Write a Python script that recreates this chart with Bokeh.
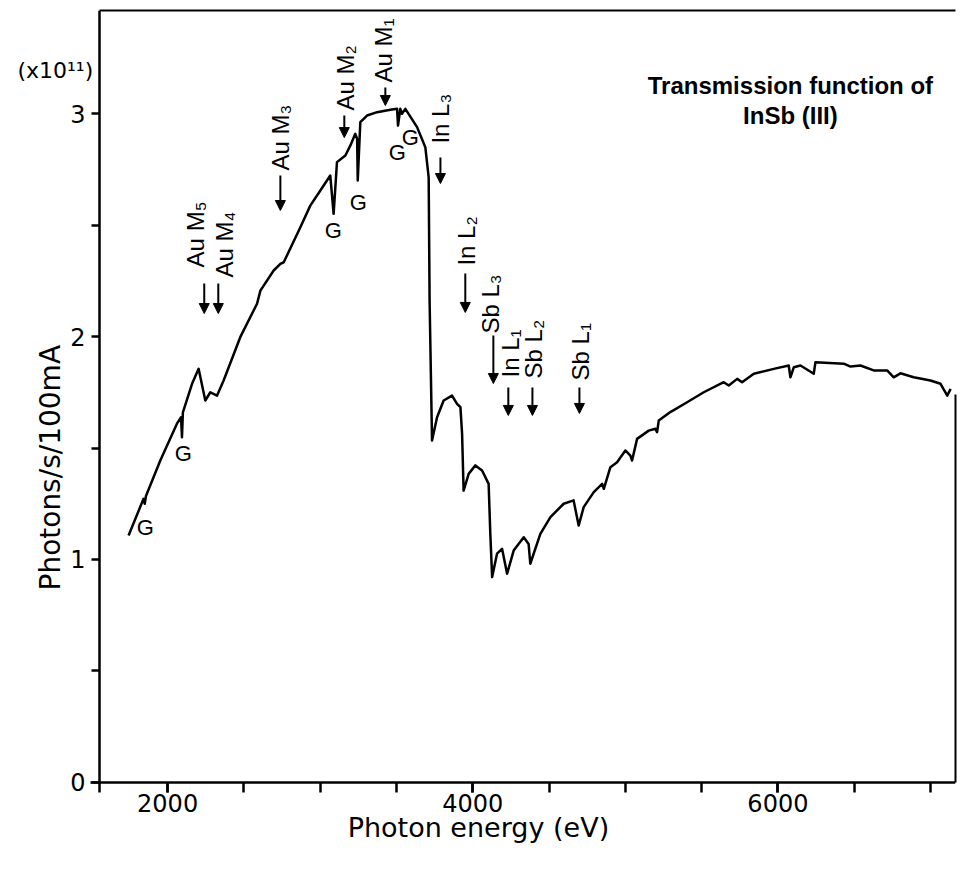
from math import pi
from bokeh.plotting import figure
from bokeh.models import (Range1d, FixedTicker, Arrow, NormalHead, LinearAxis,
                          ColumnDataSource)
from bokeh.embed import file_html
from bokeh.resources import INLINE
from bokeh.core.properties import value

# ---- data (photon energy in eV, photons/s/100mA in units of 1e11) ----
energy_ev = [1744, 1842, 1850, 1858, 1952, 2061, 2088, 2094, 2100, 2160,
             2203, 2247, 2280, 2324, 2367, 2476, 2586, 2608, 2695, 2739,
             2761, 2870, 2935, 3001, 3066, 3088, 3110, 3165, 3198, 3230,
             3242, 3246, 3263, 3307, 3373, 3460, 3504, 3510, 3525, 3536,
             3558, 3635, 3689, 3711, 3717, 3733, 3766, 3809, 3864, 3897,
             3919, 3930, 3940, 3973, 4017, 4061, 4104, 4115, 4127, 4159,
             4192, 4225, 4268, 4334, 4366, 4377, 4443, 4509, 4596, 4661,
             4694, 4727, 4793, 4848, 4859, 4902, 4946, 5000, 5033, 5044,
             5077, 5153, 5197, 5208, 5219, 5295, 5405, 5514, 5645, 5678,
             5733, 5765, 5842, 5973, 6071, 6082, 6104, 6148, 6235, 6246,
             6432, 6476, 6541, 6628, 6716, 6759, 6803, 6890, 7000, 7066,
             7110, 7132]
photons = [1.108, 1.272, 1.250, 1.285, 1.444, 1.609, 1.638, 1.548, 1.660, 1.788,
           1.855, 1.713, 1.750, 1.735, 1.803, 1.997, 2.147, 2.206, 2.296, 2.326,
           2.333, 2.490, 2.587, 2.655, 2.722, 2.550, 2.782, 2.812, 2.857, 2.909,
           2.887, 2.700, 2.961, 2.991, 3.006, 3.017, 3.021, 2.946, 3.021, 2.999,
           3.021, 2.939, 2.849, 2.714, 2.161, 1.534, 1.638, 1.713, 1.735, 1.698,
           1.683, 1.564, 1.309, 1.384, 1.422, 1.399, 1.339, 1.115, 0.921, 1.026,
           1.048, 0.936, 1.040, 1.100, 1.070, 0.981, 1.115, 1.190, 1.250, 1.265,
           1.152, 1.235, 1.302, 1.339, 1.317, 1.414, 1.436, 1.489, 1.466, 1.444,
           1.541, 1.578, 1.586, 1.571, 1.623, 1.661, 1.705, 1.750, 1.795, 1.780,
           1.810, 1.795, 1.833, 1.855, 1.870, 1.817, 1.862, 1.870, 1.833, 1.885,
           1.878, 1.865, 1.870, 1.848, 1.848, 1.817, 1.835, 1.817, 1.803, 1.788,
           1.735, 1.765]

x_major_ticks = [2000, 4000, 6000]
x_minor_ticks = [2000, 2500, 3000, 3500, 4000, 4500, 5000, 5500, 6000, 6500, 7000]
y_major_ticks = [0, 1, 2, 3]
y_minor_ticks = [0.5, 1.5, 2.5]

# data extent of the drawn axes box
x_axis_start, x_axis_end = 1554, 7164
y_axis_start, y_axis_end = 0, 3.462

# absorption edge markers
edge_labels = ["Au M\u2085", "Au M\u2084", "Au M\u2083", "Au M\u2082", "Au M\u2081",
               "In L\u2083", "In L\u2082", "Sb L\u2083", "In L\u2081", "Sb L\u2082", "Sb L\u2081"]
edge_label_x = [2182, 2372, 2739, 3165, 3414, 3788, 3958, 4115, 4246, 4400, 4706]
edge_label_y = [2.310, 2.265, 2.744, 3.013, 3.139, 2.865, 2.318, 2.013, 1.816, 1.812, 1.803]
arrow_x = [2240, 2332, 2739, 3158, 3427, 3788, 3951, 4135, 4233, 4391, 4699]
arrow_top = [2.238, 2.238, 2.722, 2.991, 3.117, 2.803, 2.283, 2.004, 1.771, 1.771, 1.771]
arrow_bottom = [2.103, 2.103, 2.565, 2.892, 3.036, 2.686, 2.108, 1.789, 1.646, 1.646, 1.655]

# glitch markers "G"
glitch_x = [1854, 2103, 3086, 3250, 3506, 3591]
glitch_y = [1.143, 1.475, 2.475, 2.601, 2.825, 2.892]

title_lines = ["Transmission function of", "InSb (III)"]
title_x = [6082, 6082]
title_y = [3.126, 2.991]

FONT = "Liberation Sans"
AXFONT = "DejaVu Sans"

# the frame extends left of and below the drawn axes so that all axis texts sit in it
p = figure(width=958, height=860, output_backend="svg", toolbar_location=None,
           x_range=Range1d(957, x_axis_end), y_range=Range1d(-0.305, y_axis_end),
           min_border_left=8, min_border_right=3, min_border_top=10, min_border_bottom=10,
           background_fill_color="white", border_fill_color="white")
p.grid.visible = False
p.outline_line_color = None

p.xaxis.ticker = FixedTicker(ticks=x_major_ticks, minor_ticks=x_minor_ticks)
p.yaxis.ticker = FixedTicker(ticks=y_major_ticks, minor_ticks=y_minor_ticks)
p.yaxis.fixed_location = x_axis_start
p.yaxis.bounds = (-0.045, y_axis_end)
p.xaxis.fixed_location = y_axis_start
p.xaxis.bounds = (1495, x_axis_end)

for ax, tick_len in ((p.xaxis, 10), (p.yaxis, 8)):
    ax.axis_line_width = 2.5
    ax.axis_line_color = "black"
    ax.major_tick_line_width = 2.5
    ax.minor_tick_line_width = 2.5
    ax.major_tick_line_color = "black"
    ax.minor_tick_line_color = "black"
    ax.major_tick_out = tick_len
    ax.minor_tick_out = tick_len
    ax.major_tick_in = 0
    ax.minor_tick_in = 0
    ax.major_label_text_font = AXFONT
    ax.major_label_text_font_size = "24px"
    ax.major_label_text_color = "black"

p.xaxis.major_label_standoff = 2
p.yaxis.major_label_standoff = 6

# top and (partial) right border lines of the box
top_axis = LinearAxis(ticker=FixedTicker(ticks=[]), bounds=(x_axis_start, x_axis_end),
                      axis_line_width=2, axis_line_color="black",
                      major_tick_out=0, minor_tick_out=0, major_tick_in=0, minor_tick_in=0,
                      major_label_text_font_size="0px")
p.add_layout(top_axis, "above")
right_axis = LinearAxis(ticker=FixedTicker(ticks=[]), bounds=(0, 1.74),
                        axis_line_width=2, axis_line_color="black",
                        major_tick_out=0, minor_tick_out=0, major_tick_in=0, minor_tick_in=0,
                        major_label_text_font_size="0px")
p.add_layout(right_axis, "right")

# axis titles and scale factor
p.text(x=[4037], y=[-0.202], text=["Photon energy (eV)"], text_align="center",
       text_baseline="middle", text_font=value(AXFONT), text_font_size="27px",
       text_color="black")
p.text(x=[1231], y=[0.861], text=["Photons/s/100mA"], angle=pi / 2,
       text_align="left", text_baseline="middle", text_font=value(AXFONT),
       text_font_size="28px", text_color="black")
p.text(x=[1264], y=[3.193], text=["(x10\u00b9\u00b9)"], text_align="center",
       text_baseline="middle", text_font=value(AXFONT), text_font_size="22px",
       text_color="black")

p.line(energy_ev, photons, line_color="black", line_width=2.5, line_join="round")

p.text(x=edge_label_x, y=edge_label_y, text=edge_labels, angle=pi / 2,
       text_align="left", text_baseline="middle", text_font=value(FONT),
       text_font_size="24px", text_color="black")

arrows = ColumnDataSource(dict(x=arrow_x, y0=arrow_top, y1=arrow_bottom))
p.add_layout(Arrow(end=NormalHead(size=10, fill_color="black", line_color="black"),
                   x_start="x", y_start="y0", x_end="x", y_end="y1",
                   source=arrows, line_width=2, line_color="black"))

p.text(x=glitch_x, y=glitch_y, text=["G"] * len(glitch_x), text_align="center",
       text_baseline="middle", text_font=value(FONT), text_font_size="22px",
       text_color="black")

p.text(x=title_x, y=title_y, text=title_lines, text_align="center",
       text_baseline="middle", text_font=value(FONT), text_font_style="bold",
       text_font_size="24px", text_color="black")

open("out.html", "w").write(file_html(p, INLINE))
